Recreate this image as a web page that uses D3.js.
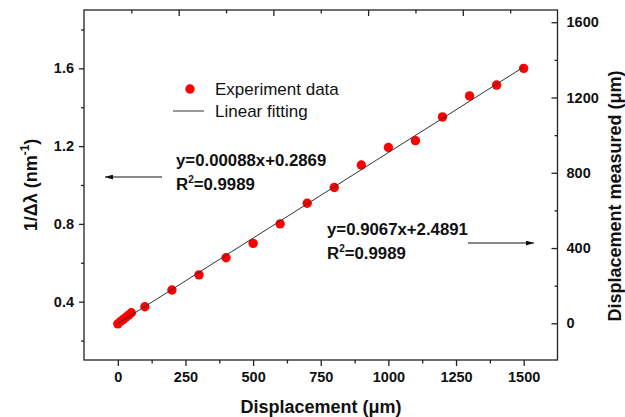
<!DOCTYPE html>
<html>
<head>
<meta charset="utf-8">
<script src="https://cdn.jsdelivr.net/npm/d3@7"></script>
<style>
  body { margin: 0; background: #fff; }
  svg { font-family: 'Liberation Sans', Arial, sans-serif; }
  .tick text { font-weight: bold; font-size: 14.5px; fill: #111; }
  .domain { display: none; }
</style>
</head>
<body>
<svg width="625" height="417"></svg>
<script>
// displacement (um) and 1/delta-lambda (nm^-1)
const displacement = [0, 10, 20, 30, 40, 50, 100, 200, 300, 400, 500, 600, 700, 800, 900, 1000, 1100, 1200, 1300, 1400, 1500]
const invDeltaLambda = [0.286, 0.298, 0.309, 0.32, 0.331, 0.343, 0.374, 0.46, 0.538, 0.626, 0.70, 0.80, 0.906, 0.987, 1.103, 1.193, 1.228, 1.35, 1.458, 1.514, 1.60]

const fitSlope = 0.00088
const fitIntercept = 0.2869

const xTicks = [0, 250, 500, 750, 1000, 1250, 1500]
const xMinorTicks = [125, 375, 625, 875, 1125, 1375]
const yLeftTicks = [0.4, 0.8, 1.2, 1.6]
const yLeftMinorTicks = [0.2, 0.6, 1.0, 1.4, 1.8]
const yRightTicks = [0, 400, 800, 1200, 1600]
const yRightMinorTicks = [200, 600, 1000, 1400]
const topTicks = [2, 4, 6, 8]
const topMinorTicks = [1, 3, 5, 7, 9]

const svg = d3.select('svg')
const plotLeft = 84, plotRight = 557.5, plotTop = 10, plotBottom = 360

const x = d3.scaleLinear().domain([-125, 1625]).range([plotLeft, plotRight])
const yL = d3.scaleLinear().domain([0.1, 1.9]).range([plotBottom, plotTop])
const yR = d3.scaleLinear().domain([-195, 1665]).range([plotBottom, plotTop])
const xTop = d3.scaleLinear().domain([0, 10]).range([plotLeft, plotRight])

const axisColor = '#222'

// frame
svg.
  append('rect').
  attr('x', plotLeft).
  attr('y', plotTop).
  attr('width', plotRight - plotLeft).
  attr('height', plotBottom - plotTop).
  attr('fill', 'none').
  attr('stroke', axisColor).
  attr('stroke-width', 1.3)

function styleTicks (g) {
  g.selectAll('.tick line').attr('stroke', axisColor).attr('stroke-width', 1.3)
}

svg.append('g').
  attr('transform', `translate(0,${plotBottom})`).
  call(d3.axisBottom(x).tickValues(xTicks).tickSize(6).tickPadding(6).tickFormat(d3.format('d'))).
  call(styleTicks)
svg.append('g').
  attr('transform', `translate(0,${plotBottom})`).
  call(d3.axisBottom(x).tickValues(xMinorTicks).tickSize(3.5).tickFormat('')).
  call(styleTicks)

svg.append('g').
  attr('transform', `translate(${plotLeft},0)`).
  call(d3.axisLeft(yL).tickValues(yLeftTicks).tickSize(5).tickPadding(5).tickFormat(d3.format('.1f'))).
  call(styleTicks)
svg.append('g').
  attr('transform', `translate(${plotLeft},0)`).
  call(d3.axisLeft(yL).tickValues(yLeftMinorTicks).tickSize(3).tickFormat('')).
  call(styleTicks)

// right axis: ticks point inward, labels outside
const rightAxis = svg.append('g').
  attr('transform', `translate(${plotRight},0)`).
  call(d3.axisLeft(yR).tickValues(yRightTicks).tickSize(6).tickFormat(d3.format('d'))).
  call(styleTicks)
rightAxis.selectAll('.tick text').
  attr('x', 9).
  attr('text-anchor', 'start')
svg.append('g').
  attr('transform', `translate(${plotRight},0)`).
  call(d3.axisLeft(yR).tickValues(yRightMinorTicks).tickSize(3).tickFormat('')).
  call(styleTicks)

// top axis, ticks inward only
svg.append('g').
  attr('transform', `translate(0,${plotTop})`).
  call(d3.axisBottom(xTop).tickValues(topTicks).tickSize(6).tickFormat('')).
  call(styleTicks)
svg.append('g').
  attr('transform', `translate(0,${plotTop})`).
  call(d3.axisBottom(xTop).tickValues(topMinorTicks).tickSize(3.5).tickFormat('')).
  call(styleTicks)

// data points
svg.append('g').
  selectAll('circle').
  data(displacement).
  enter().
  append('circle').
  attr('cx', d => x(d)).
  attr('cy', (d, i) => yL(invDeltaLambda[i])).
  attr('r', 4.7).
  attr('fill', '#ff0000')

// linear fit
const fitEnds = [displacement[0], displacement[displacement.length - 1]]
svg.append('path').
  attr('d', d3.line().x(d => x(d)).y(d => yL(fitSlope * d + fitIntercept))(fitEnds)).
  attr('stroke', '#333').
  attr('stroke-width', 1).
  attr('fill', 'none')

// legend
svg.append('circle').
  attr('cx', 190).attr('cy', 89).attr('r', 4.7).attr('fill', '#ff0000')
svg.append('line').
  attr('x1', 173).attr('x2', 204).attr('y1', 111).attr('y2', 111).
  attr('stroke', '#333').attr('stroke-width', 1)
svg.append('text').
  attr('x', 215).attr('y', 95).
  attr('font-size', 17).attr('fill', '#111').
  text('Experiment data')
svg.append('text').
  attr('x', 215).attr('y', 117).
  attr('font-size', 17).attr('fill', '#111').
  text('Linear fitting')

// annotations
function equation (xPos, yPos, eq, r2) {
  svg.append('text').
    attr('x', xPos).attr('y', yPos).
    attr('font-size', 16.8).attr('font-weight', 'bold').attr('fill', '#111').
    text(eq)
  const t = svg.append('text').
    attr('x', xPos).attr('y', yPos + 24).
    attr('font-size', 16.8).attr('font-weight', 'bold').attr('fill', '#111')
  t.append('tspan').text('R')
  t.append('tspan').attr('font-size', 10).attr('dy', -7).text('2')
  t.append('tspan').attr('dy', 7).text('=' + r2)
}
equation(176, 166, 'y=0.00088x+0.2869', '0.9989')
equation(327, 235, 'y=0.9067x+2.4891', '0.9989')

svg.append('defs').
  append('marker').
  attr('id', 'head').
  attr('viewBox', '0 0 10 6').
  attr('refX', 10).attr('refY', 3).
  attr('markerWidth', 8).attr('markerHeight', 5).
  attr('markerUnits', 'userSpaceOnUse').
  attr('orient', 'auto').
  append('path').
  attr('d', 'M0,0L10,3L0,6Z').
  attr('fill', '#111')

svg.append('line').
  attr('x1', 162).attr('y1', 177).attr('x2', 105).attr('y2', 177).
  attr('stroke', '#111').attr('stroke-width', 1).
  attr('marker-end', 'url(#head)')
svg.append('line').
  attr('x1', 468).attr('y1', 243).attr('x2', 534).attr('y2', 243).
  attr('stroke', '#111').attr('stroke-width', 1).
  attr('marker-end', 'url(#head)')

// axis titles
svg.append('text').
  attr('x', 321).attr('y', 413).
  attr('text-anchor', 'middle').
  attr('font-size', 18).attr('font-weight', 'bold').attr('fill', '#111').
  text('Displacement (μm)')

const yTitle = svg.append('text').
  attr('transform', 'translate(37,185) rotate(-90)').
  attr('text-anchor', 'middle').
  attr('font-size', 18).attr('font-weight', 'bold').attr('fill', '#111')
yTitle.append('tspan').text('1/Δλ (nm')
yTitle.append('tspan').attr('font-size', 12).attr('dy', -8).text('-1')
yTitle.append('tspan').attr('dy', 8).text(')')

svg.append('text').
  attr('transform', 'translate(621,196) rotate(-90)').
  attr('text-anchor', 'middle').
  attr('font-size', 18).attr('font-weight', 'bold').attr('fill', '#111').
  text('Displacement measured (μm)')
</script>
</body>
</html>
